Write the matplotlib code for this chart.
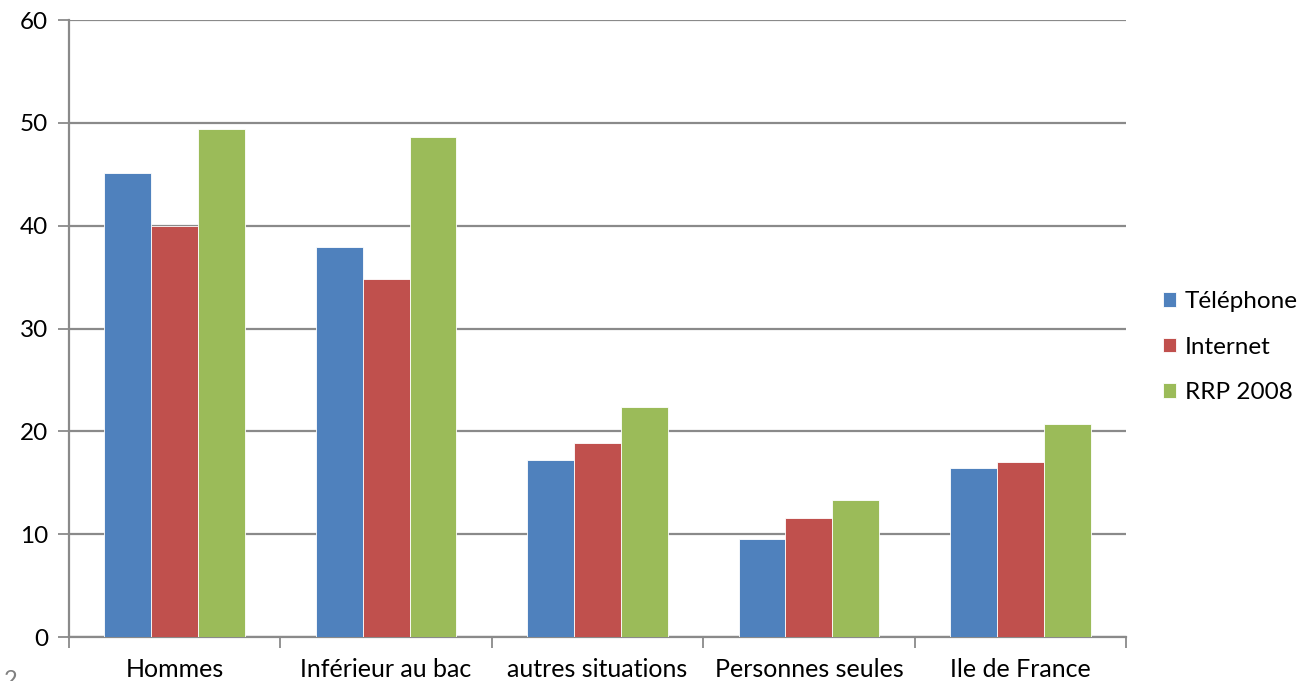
import matplotlib.pyplot as plt
import numpy as np

categories = ["Hommes", "Inférieur au bac", "autres situations", "Personnes seules", "Ile de France"]
telephone = [45.1, 37.9, 17.2, 9.5, 16.4]
internet = [40.0, 34.8, 18.9, 11.6, 17.0]
rrp_2008 = [49.4, 48.6, 22.4, 13.3, 20.7]

series = [
    ("Téléphone", telephone, "#4F81BD"),
    ("Internet", internet, "#C0504D"),
    ("RRP 2008", rrp_2008, "#9BBB59"),
]

plt.rcParams['font.family'] = ['Lato', 'DejaVu Sans']

fig = plt.figure(figsize=(13.06, 6.81), dpi=100)
ax = fig.add_axes([0.0528, 0.0646, 0.8094, 0.906])

x = np.arange(len(categories))
width = 0.222
for i, (name, vals, color) in enumerate(series):
    ax.bar(x + (i - 1) * width, vals, width, color=color, edgecolor="white",
           linewidth=0.6, label=name, zorder=3)

ax.set_xlim(-0.5, len(categories) - 0.5)
ax.set_ylim(0, 60)
ax.set_yticks(range(0, 61, 10))
ax.yaxis.grid(True, color="#8a8a8a", linewidth=1.6, zorder=0)
ax.set_axisbelow(True)

# ticks on the x axis sit between categories, labels under the centres
ax.set_xticks(np.arange(-0.5, len(categories), 1.0))
ax.set_xticklabels([])
ax.set_xticks(x, minor=True)
ax.set_xticklabels(categories, minor=True)
ax.tick_params(axis="x", which="minor", length=0, pad=15, labelsize=18)
ax.tick_params(axis="x", which="major", length=8, width=1.3, color="#8a8a8a")
ax.tick_params(axis="y", length=8, width=1.3, color="#8a8a8a", pad=7, labelsize=17.5)

for side in ("top", "right"):
    ax.spines[side].set_visible(False)
for side in ("left", "bottom"):
    ax.spines[side].set_color("#8a8a8a")
    ax.spines[side].set_linewidth(1.6)

ax.legend(loc="center left", bbox_to_anchor=(1.014, 0.47), frameon=False,
          fontsize=17.5, handlelength=0.55, handleheight=0.55, handletextpad=0.35,
          labelspacing=1.0)

fig.text(0.003, -0.014, "2", fontsize=17, color="#808080", va="bottom")

fig.savefig("out.png", dpi=100)
